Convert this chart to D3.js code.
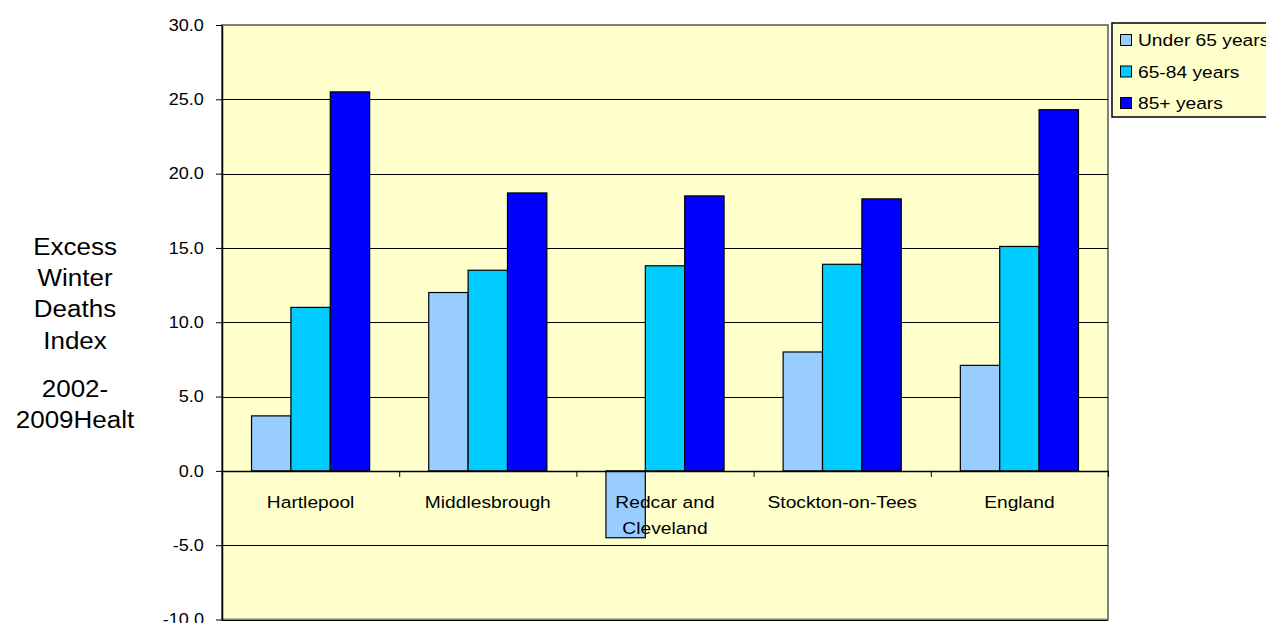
<!DOCTYPE html>
<html>
<head>
<meta charset="utf-8">
<script src="https://cdn.jsdelivr.net/npm/d3@7"></script>
<style>
  html, body { margin: 0; padding: 0; background: #fff; overflow: hidden; }
  svg { display: block; font-family: "Liberation Sans", Arial, sans-serif; }
</style>
</head>
<body>
<div id="chart"></div>
<script>
// --- Data ---
const categories = ["Hartlepool", "Middlesbrough", "Redcar and Cleveland", "Stockton-on-Tees", "England"];
const seriesNames = ["Under 65 years", "65-84 years", "85+ years"];
const under65 = [3.7, 12.0, -4.5, 8.0, 7.1];
const age65to84 = [11.0, 13.5, 13.8, 13.9, 15.1];
const age85plus = [25.5, 18.7, 18.5, 18.3, 24.3];
const yTicks = [-10, -5, 0, 5, 10, 15, 20, 25, 30];
const titleLines = ["Excess", "Winter", "Deaths", "Index", "2002-", "2009Healt"];

const seriesColors = ["#99ccff", "#00ccff", "#0000ff"];
const seriesValues = [under65, age65to84, age85plus];

// --- Sizing ---
const width = 1266, height = 623;
const plot = { left: 222, right: 1108, top: 25, bottom: 619.5 };
const stretch = 1.13; // text in the reference is slightly widened

const svg = d3.select("#chart").append("svg")
  .attr("width", width)
  .attr("height", height);

// --- Scales ---
const y = d3.scaleLinear().domain([-10, 30]).range([plot.bottom, plot.top]);
const x = d3.scaleBand().domain(categories)
  .range([plot.left, plot.right])
  .paddingInner(1 / 3)
  .paddingOuter(1 / 6);
const xSub = d3.scaleBand().domain(d3.range(seriesNames.length)).range([0, x.bandwidth()]);
const xEdge = d3.scaleLinear().domain([0, categories.length]).range([plot.left, plot.right]);

// plot background
svg.append("rect")
  .attr("x", plot.left).attr("y", plot.top)
  .attr("width", plot.right - plot.left).attr("height", plot.bottom - plot.top)
  .attr("fill", "#ffffcc")
  .attr("stroke", "#808080").attr("stroke-width", 2);

// gridlines
svg.append("g")
  .selectAll("line")
  .data(yTicks.filter(d => d !== 30))
  .enter().append("line")
  .attr("x1", plot.left).attr("x2", plot.right)
  .attr("y1", d => Math.round(y(d)) + 0.5).attr("y2", d => Math.round(y(d)) + 0.5)
  .attr("stroke", "#000").attr("stroke-width", 1);

// y axis
const yAxis = svg.append("g")
  .attr("transform", `translate(${plot.left},0)`)
  .call(d3.axisLeft(y).tickValues(yTicks).tickFormat(d => d.toFixed(1)).tickSize(6).tickPadding(10).tickSizeOuter(0));
yAxis.select(".domain").attr("stroke", "#000").attr("stroke-width", 1.5);
yAxis.selectAll(".tick line").attr("stroke", "#000");
yAxis.selectAll("text")
  .attr("font-size", 16)
  .attr("fill", "#000")
  .attr("font-family", "'Liberation Sans', Arial, sans-serif")
  .attr("transform", `scale(${stretch},1)`);

// bars
const groups = svg.append("g")
  .selectAll("g")
  .data(categories)
  .enter().append("g")
  .attr("transform", d => `translate(${x(d)},0)`);

groups.selectAll("rect")
  .data((c, ci) => seriesValues.map((vals, si) => ({ si, v: vals[ci] })))
  .enter().append("rect")
  .attr("x", d => xSub(d.si))
  .attr("width", xSub.bandwidth())
  .attr("y", d => y(Math.max(0, d.v)))
  .attr("height", d => Math.abs(y(d.v) - y(0)))
  .attr("fill", d => seriesColors[d.si])
  .attr("stroke", "#000")
  .attr("stroke-width", 1.2);

// x axis at zero
const xAxis = svg.append("g")
  .attr("transform", `translate(0,${y(0)})`)
  .call(d3.axisBottom(xEdge).tickValues(d3.range(categories.length + 1)).tickFormat("").tickSize(6).tickSizeOuter(0));
xAxis.select(".domain").attr("stroke", "#000").attr("stroke-width", 1.5);
xAxis.selectAll(".tick line").attr("stroke", "#000");

// category labels, wrapped to the band
const labelFont = 17;
const labels = svg.append("g")
  .selectAll("text")
  .data(categories)
  .enter().append("text")
  .attr("text-anchor", "middle")
  .attr("font-size", labelFont)
  .attr("fill", "#000")
  .attr("transform", d => `translate(${x(d) + x.bandwidth() / 2},${y(0) + 37}) scale(${stretch},1)`);

labels.each(function (d) {
  const t = d3.select(this);
  const words = d.split(" ");
  let line = [], lineNo = 0;
  let tspan = t.append("tspan").attr("x", 0).attr("y", 0);
  words.forEach(w => {
    line.push(w);
    tspan.text(line.join(" "));
    if (tspan.node().getComputedTextLength() * stretch > 150 && line.length > 1) {
      line.pop();
      tspan.text(line.join(" "));
      line = [w];
      lineNo++;
      tspan = t.append("tspan").attr("x", 0).attr("y", lineNo * 26).text(w);
    }
  });
});

// y axis title
const titleY = [255, 286, 317, 349, 397, 428];
svg.append("g")
  .selectAll("text")
  .data(titleLines)
  .enter().append("text")
  .attr("text-anchor", "middle")
  .attr("font-size", 23)
  .attr("fill", "#000")
  .attr("transform", (d, i) => `translate(75,${titleY[i]}) scale(${stretch},1)`)
  .text(d => d);

// legend
const legend = svg.append("g").attr("transform", "translate(1112,23)");
legend.append("rect")
  .attr("width", 170).attr("height", 94)
  .attr("fill", "#ffffcc")
  .attr("stroke", "#000").attr("stroke-width", 1.5);

const items = legend.selectAll(".item")
  .data(seriesNames)
  .enter().append("g")
  .attr("class", "item")
  .attr("transform", (d, i) => `translate(0,${17 + i * 31.5})`);

items.append("rect")
  .attr("x", 8.5).attr("y", -5.5)
  .attr("width", 11).attr("height", 11)
  .attr("fill", (d, i) => seriesColors[i])
  .attr("stroke", "#000").attr("stroke-width", 1);

items.append("text")
  .attr("transform", `translate(26,6) scale(${stretch},1)`)
  .attr("font-size", 17)
  .attr("fill", "#000")
  .text(d => d);
</script>
</body>
</html>
